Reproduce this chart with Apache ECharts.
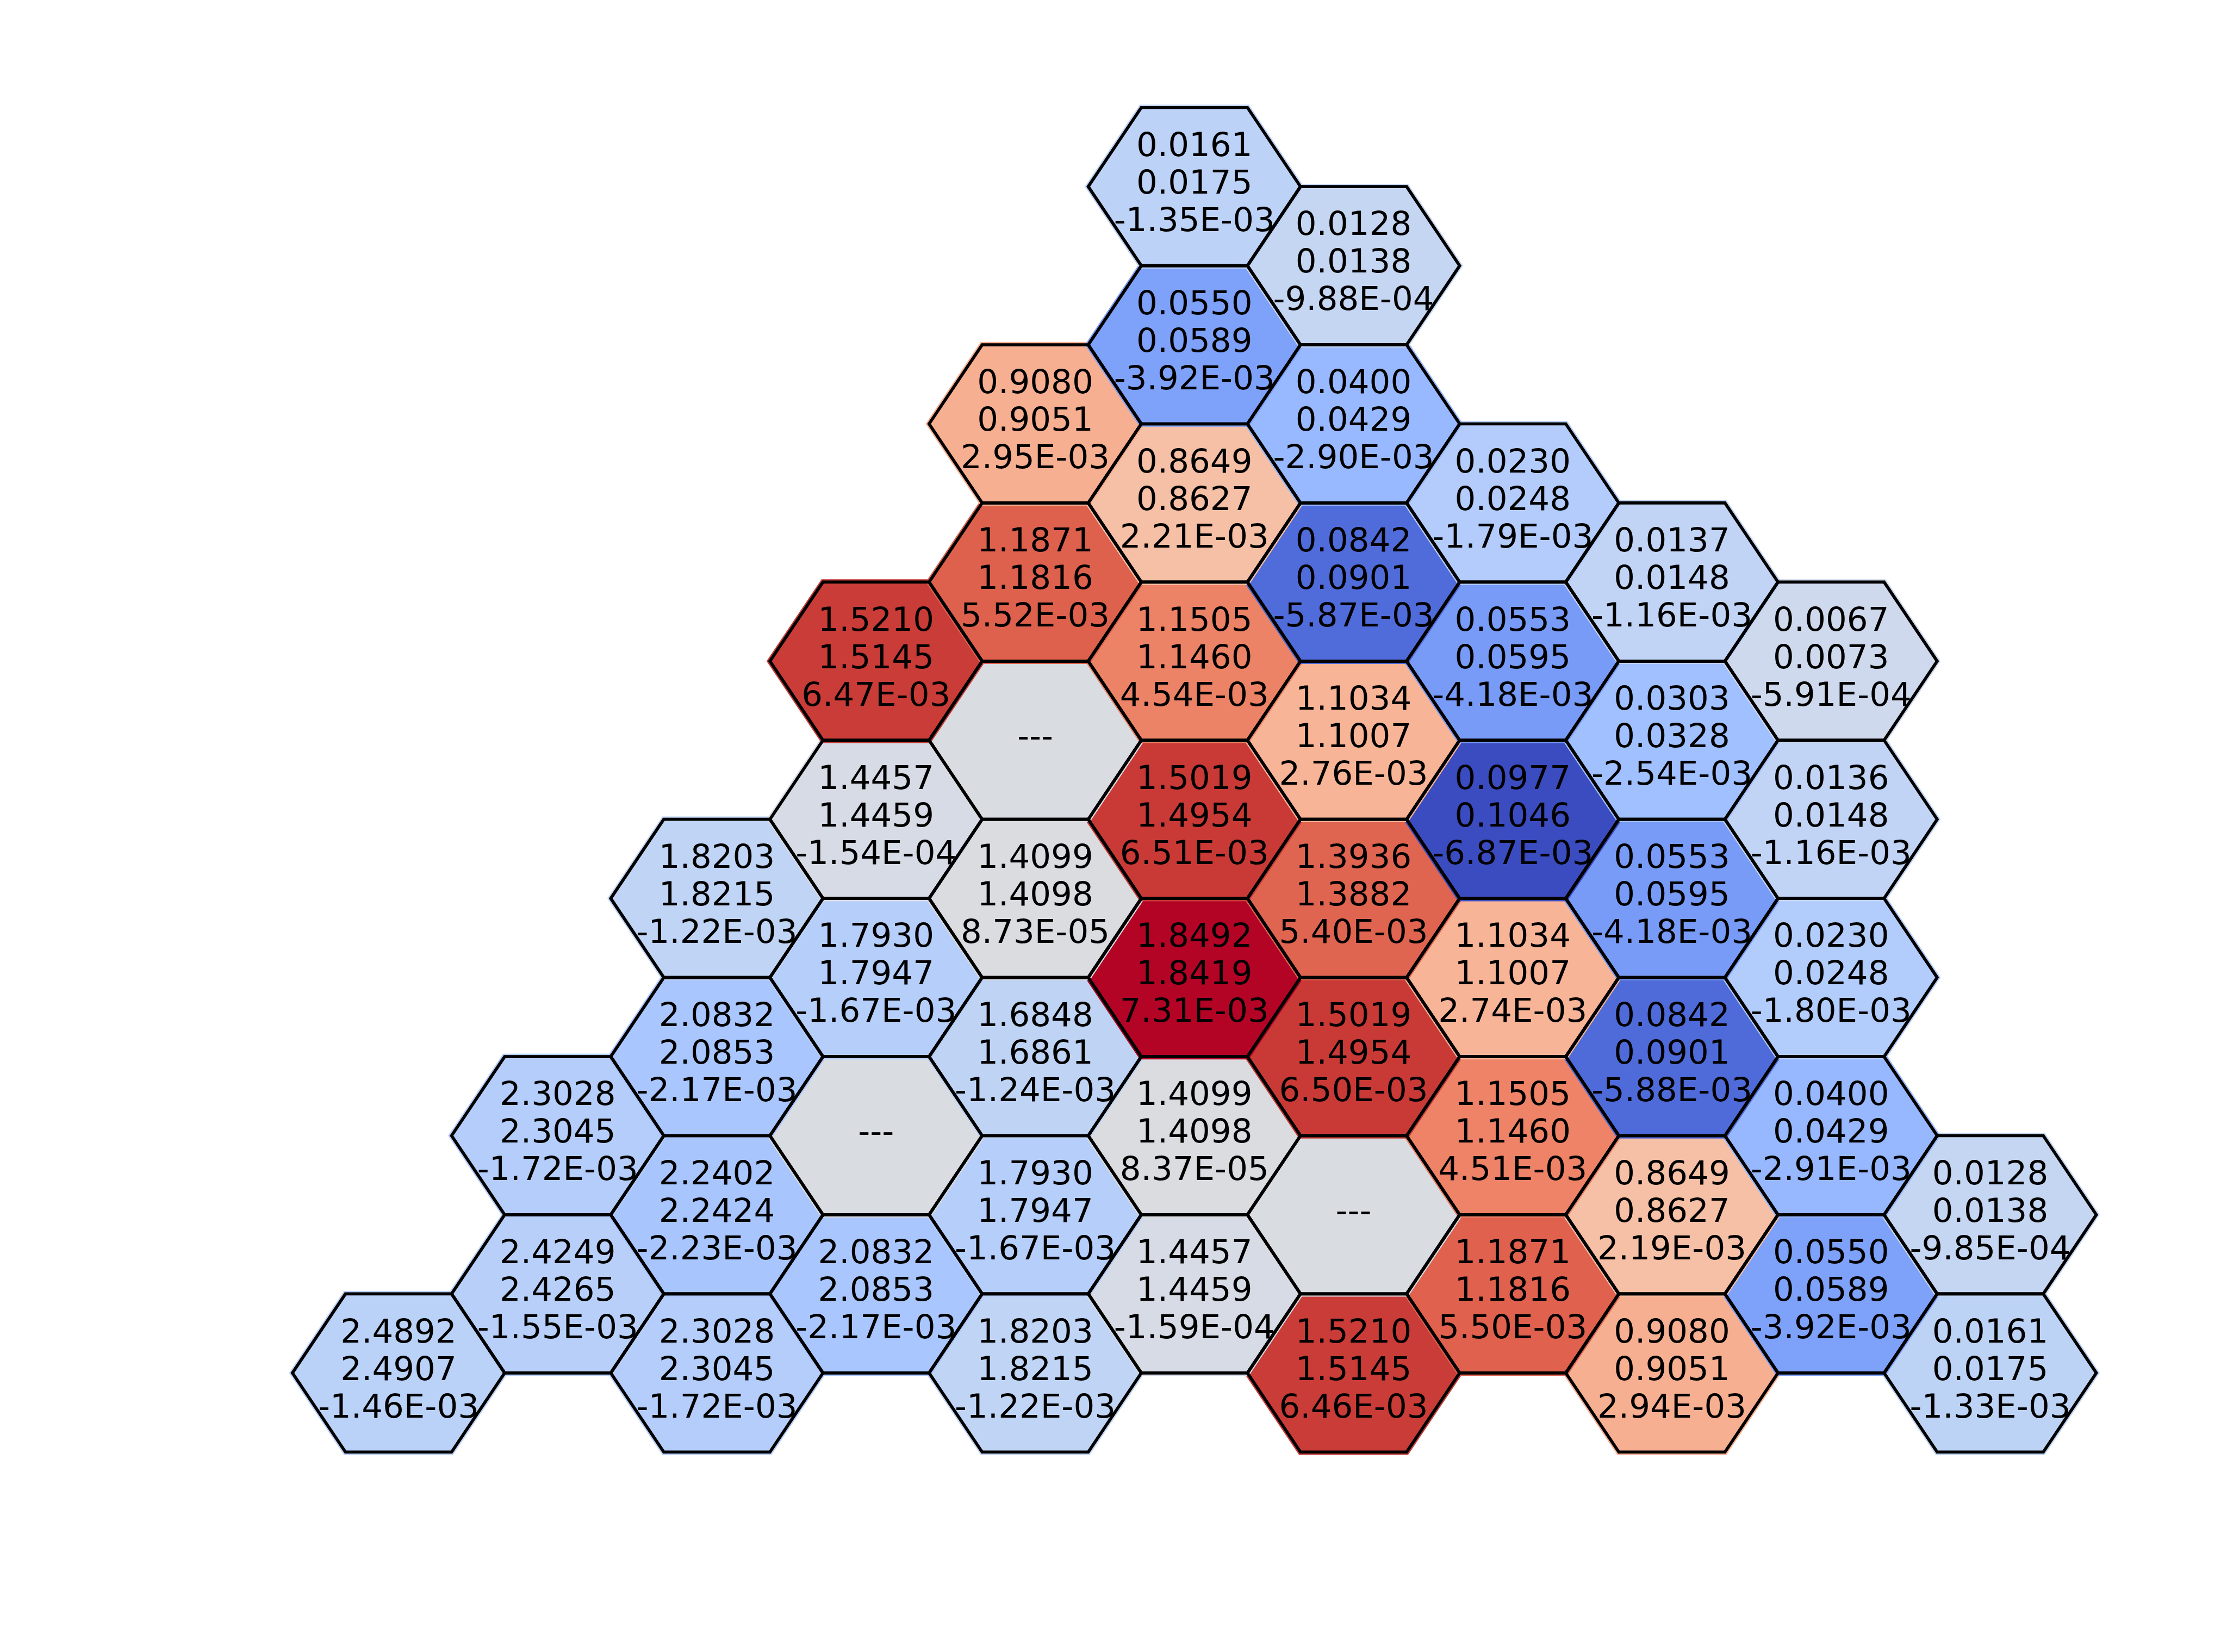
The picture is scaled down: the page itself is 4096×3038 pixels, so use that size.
<!DOCTYPE html>
<html>
<head>
<meta charset="utf-8">
<script src="https://cdn.jsdelivr.net/npm/echarts@6/dist/echarts.min.js"></script>
<style>
html,body{margin:0;padding:0;background:#fff;}
#chart{width:4096px;height:3038px;}
</style>
</head>
<body>
<div id="chart"></div>
<script>
// Hex column index and half-row level (0 = bottom row)
const columns = [0, 1,1, 2,2,2,2, 3,3,3,3,3, 4,4,4,4,4,4,4, 5,5,5,5,5,5,5,5, 6,6,6,6,6,6,6,6, 7,7,7,7,7,7, 8,8,8,8,8,8, 9,9,9,9,9, 10,10];
const levels  = [0, 1,3, 0,2,4,6, 1,3,5,7,9, 0,2,4,6,8,10,12, 1,3,5,7,9,11,13,15, 0,2,4,6,8,10,12,14, 1,3,5,7,9,11, 0,2,4,6,8,10, 1,3,5,7,9, 0,2];
// First value (null = no data, shown as ---)
const valuesA = [2.4892, 2.4249,2.3028, 2.3028,2.2402,2.0832,1.8203, 2.0832,null,1.7930,1.4457,1.5210,
  1.8203,1.7930,1.6848,1.4099,null,1.1871,0.9080,
  1.4457,1.4099,1.8492,1.5019,1.1505,0.8649,0.0550,0.0161,
  1.5210,null,1.5019,1.3936,1.1034,0.0842,0.0400,0.0128,
  1.1871,1.1505,1.1034,0.0977,0.0553,0.0230,
  0.9080,0.8649,0.0842,0.0553,0.0303,0.0137,
  0.0550,0.0400,0.0230,0.0136,0.0067,
  0.0161,0.0128];
// Second value
const valuesB = [2.4907, 2.4265,2.3045, 2.3045,2.2424,2.0853,1.8215, 2.0853,null,1.7947,1.4459,1.5145,
  1.8215,1.7947,1.6861,1.4098,null,1.1816,0.9051,
  1.4459,1.4098,1.8419,1.4954,1.1460,0.8627,0.0589,0.0175,
  1.5145,null,1.4954,1.3882,1.1007,0.0901,0.0429,0.0138,
  1.1816,1.1460,1.1007,0.1046,0.0595,0.0248,
  0.9051,0.8627,0.0901,0.0595,0.0328,0.0148,
  0.0589,0.0429,0.0248,0.0148,0.0073,
  0.0175,0.0138];
// Difference (colour value)
const diffs = [-1.46e-3, -1.55e-3,-1.72e-3, -1.72e-3,-2.23e-3,-2.17e-3,-1.22e-3, -2.17e-3,0,-1.67e-3,-1.54e-4,6.47e-3,
  -1.22e-3,-1.67e-3,-1.24e-3,8.73e-5,0,5.52e-3,2.95e-3,
  -1.59e-4,8.37e-5,7.31e-3,6.51e-3,4.54e-3,2.21e-3,-3.92e-3,-1.35e-3,
  6.46e-3,0,6.50e-3,5.40e-3,2.76e-3,-5.87e-3,-2.90e-3,-9.88e-4,
  5.50e-3,4.51e-3,2.74e-3,-6.87e-3,-4.18e-3,-1.79e-3,
  2.94e-3,2.19e-3,-5.88e-3,-4.18e-3,-2.54e-3,-1.16e-3,
  -3.92e-3,-2.91e-3,-1.80e-3,-1.16e-3,-5.91e-4,
  -1.33e-3,-9.85e-4];

const coolwarm = ['#3b4cc0','#445acc','#4d68d7','#5775e1','#6282ea','#6c8ef1','#779af7','#82a5fb','#8db0fe','#98b9ff','#a3c2ff','#aec9fd','#b8d0f9','#c2d5f4','#ccd9ee','#d5dbe6','#dddddd','#e5d8d1','#ecd3c5','#f1ccb8','#f5c4ac','#f7bb9f','#f7b193','#f7a686','#f49a7b','#f18d6f','#ec7f63','#e57059','#de604d','#d55042','#cb3e38','#c0282f','#b40426'];

const data = columns.map((c, i) => [c, levels[i], valuesA[i], valuesB[i], diffs[i]]);

function fmtE(v) {
  const s = v.toExponential(2);
  const parts = s.split('e');
  const e = parseInt(parts[1], 10);
  return parts[0] + 'E' + (e < 0 ? '-' : '+') + String(Math.abs(e)).padStart(2, '0');
}
function cellText(i) {
  if (valuesA[i] === null) return '---';
  return valuesA[i].toFixed(4) + '\n' + valuesB[i].toFixed(4) + '\n' + fmtE(diffs[i]);
}

const chart = echarts.init(document.getElementById('chart'), null, {renderer: 'canvas'});
chart.setOption({
  animation: false,
  backgroundColor: '#ffffff',
  grid: {left: 30.4, top: 52.3, width: 3922.85, height: 2763.4, containLabel: false},
  xAxis: {type: 'value', min: -2.4, max: 11, show: false},
  yAxis: {type: 'value', min: -2, max: 17, show: false},
  visualMap: {
    type: 'continuous', show: false, seriesIndex: 0, dimension: 4,
    min: -6.87e-3, max: 7.31e-3, inRange: {color: coolwarm}
  },
  series: [{
    type: 'custom',
    data: data,
    encode: {x: 0, y: 1},
    renderItem: function (params, api) {
      const i = params.dataIndex;
      const c = api.value(0), k = api.value(1);
      const verts = [[c - 2/3, k], [c - 1/3, k + 1], [c + 1/3, k + 1], [c + 2/3, k], [c + 1/3, k - 1], [c - 1/3, k - 1]];
      const pts = verts.map(v => api.coord(v));
      const ctr = api.coord([c, k]);
      const col = api.visual('color');
      return {
        type: 'group',
        children: [{
          type: 'polygon',
          z2: 1 + k,
          shape: {points: pts},
          style: {fill: col, stroke: col, lineWidth: 10.5, lineJoin: 'miter'}
        }, {
          type: 'polygon',
          z2: 40,
          shape: {points: pts},
          style: {fill: null, stroke: '#000000', lineWidth: 5.7, lineJoin: 'miter'}
        }, {
          type: 'text',
          z2: 50,
          x: ctr[0], y: ctr[1] - 3,
          style: {
            text: cellText(i), fill: '#000000', fontSize: 61, fontFamily: 'DejaVu Sans',
            align: 'center', verticalAlign: 'middle', lineHeight: 69
          }
        }]
      };
    }
  }]
});
</script>
</body>
</html>
